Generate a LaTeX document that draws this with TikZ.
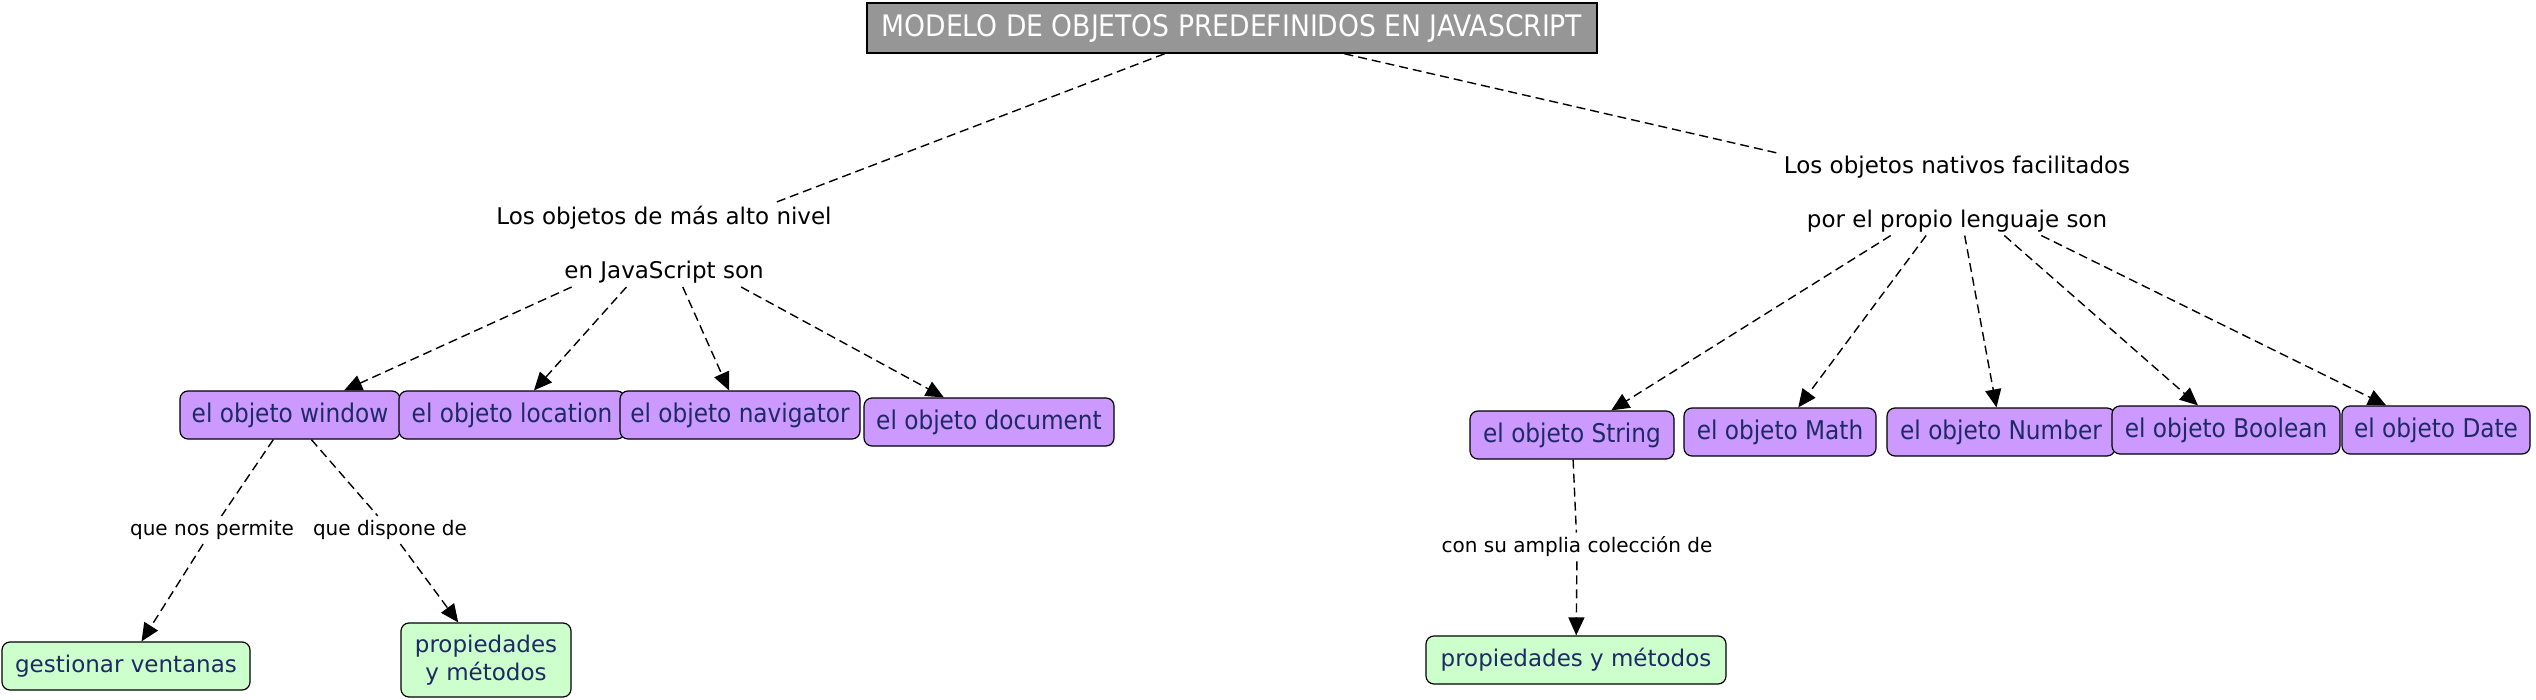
\documentclass[tikz,border=0pt]{standalone}
\usepackage{fontspec}
\setmainfont{DejaVu Sans}
\newfontfamily\condfont{DejaVu Sans Condensed}
\usetikzlibrary{arrows.meta}
\definecolor{lila}{RGB}{204,153,255}
\definecolor{menta}{RGB}{204,255,204}
\definecolor{navy}{RGB}{30,42,100}
\definecolor{titlegray}{RGB}{150,150,150}

\begin{document}
\begin{tikzpicture}[x=0.5pt,y=-0.5pt,
  concept/.style={draw,rounded corners=4pt,line width=0.6pt,inner sep=2pt,
    minimum height=24pt,text=navy},
  obj/.style={concept,fill=lila,font=\condfont\fontsize{12.9}{15}\selectfont},
  prop/.style={concept,fill=menta,font=\fontsize{11.5}{14}\selectfont,align=center},
  phrase/.style={font=\fontsize{11.5}{27}\selectfont,align=center,inner sep=1.5pt},
  link/.style={font=\fontsize{10}{12}\selectfont,inner sep=2pt},
  dl/.style={line width=0.7pt,dash pattern=on 4.5pt off 2.5pt},
  ar/.style={dl,-{Triangle[length=9pt,width=8pt]}}]
\useasboundingbox (0,0) rectangle (2536,700);
\node[draw,line width=0.8pt,fill=titlegray,text=white,minimum width=365pt,minimum height=25pt,
  font=\condfont\fontsize{14.8}{17}\selectfont] (title) at (1232,28)
  {MODELO DE OBJETOS PREDEFINIDOS EN JAVASCRIPT};
% linking phrases
\node[phrase] (alto) at (664,245) {Los objetos de más alto nivel\\en JavaScript son};
\node[phrase] (nativos) at (1957,194) {Los objetos nativos facilitados\\por el propio lenguaje son};
% objetos de alto nivel
\node[obj,minimum width=110pt] (window) at (290,415) {el objeto window};
\node[obj,minimum width=113pt] (location) at (512,415) {el objeto location};
\node[obj,minimum width=120pt] (navigator) at (740,415) {el objeto navigator};
\node[obj,minimum width=125pt] (document) at (989,422) {el objeto document};
% objetos nativos
\node[obj,minimum width=102pt] (string) at (1572,435) {el objeto String};
\node[obj,minimum width=96pt] (math) at (1780,432) {el objeto Math};
\node[obj,minimum width=114pt] (number) at (2001,432) {el objeto Number};
\node[obj,minimum width=114pt] (boolean) at (2226,430) {el objeto Boolean};
\node[obj,minimum width=94pt] (date) at (2436,430) {el objeto Date};
% hojas
\node[prop,minimum width=124pt] (ventanas) at (126,666) {gestionar ventanas};
\node[prop,minimum width=85pt,minimum height=37pt] (propwin) at (486,660) {propiedades\\y métodos};
\node[prop,minimum width=150pt] (propstr) at (1576,660) {propiedades y métodos};
% etiquetas de enlace
\node[link] (permite) at (212,530) {que nos permite};
\node[link] (dispone) at (390,530) {que dispone de};
\node[link] (coleccion) at (1577,547) {con su amplia colección de};
% conectores
\draw[dl] (title) -- (alto);
\draw[dl] (title) -- (nativos);
\foreach \b in {window,location,navigator,document} \draw[ar] (alto) -- (\b);
\foreach \b in {string,math,number,boolean,date} \draw[ar] (nativos) -- (\b);
\draw[dl] (window) -- (permite); \draw[ar] (permite) -- (ventanas);
\draw[dl] (window) -- (dispone); \draw[ar] (dispone) -- (propwin);
\draw[dl] (string) -- (coleccion); \draw[ar] (coleccion) -- (propstr);
\end{tikzpicture}
\end{document}
